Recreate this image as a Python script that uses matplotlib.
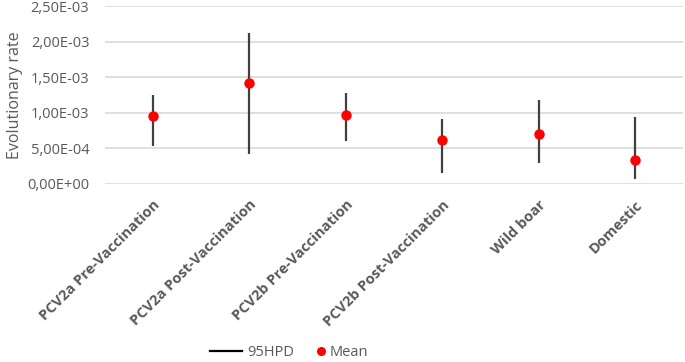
import matplotlib.pyplot as plt
from matplotlib.lines import Line2D
from matplotlib.ticker import FuncFormatter

plt.rcParams['font.family'] = ['Open Sans', 'DejaVu Sans']

# data
groups = ["PCV2a Pre-Vaccination", "PCV2a Post-Vaccination", "PCV2b Pre-Vaccination",
          "PCV2b Post-Vaccination", "Wild boar", "Domestic"]
mean_rate = [0.949e-3, 1.418e-3, 0.972e-3, 0.611e-3, 0.704e-3, 0.330e-3]
hpd_low = [0.535e-3, 0.414e-3, 0.597e-3, 0.155e-3, 0.287e-3, 0.062e-3]
hpd_high = [1.249e-3, 2.118e-3, 1.277e-3, 0.907e-3, 1.179e-3, 0.935e-3]
yticks = [0, 0.5e-3, 1.0e-3, 1.5e-3, 2.0e-3, 2.5e-3]

grey = "#595959"

fig = plt.figure(figsize=(6.85, 3.62), dpi=100)
ax = fig.add_axes([0.1526, 0.4925, 0.8452, 0.4901])

x = list(range(len(groups)))
ax.vlines(x, hpd_low, hpd_high, color="#404040", linewidth=1.6, zorder=2)
ax.plot(x, mean_rate, "o", color="#ff0000", markersize=6.5, zorder=3)

ax.set_xlim(-0.5, len(groups) - 0.5)
ax.set_ylim(0, 2.5e-3)
ax.set_yticks(yticks)
ax.yaxis.set_major_formatter(FuncFormatter(lambda v, p: ("%.2E" % v).replace(".", ",")))
ax.grid(axis="y", color="#d9d9d9", linewidth=1.2, zorder=0)
ax.set_axisbelow(True)
for s in ax.spines.values():
    s.set_visible(False)
ax.tick_params(axis="both", length=0, labelsize=10.5, labelcolor=grey)
ax.tick_params(axis="y", pad=11)

ax.set_xticks(x)
ax.set_xticklabels(groups, rotation=45, ha="right", va="top", rotation_mode="anchor",
                   fontweight="bold", fontsize=10.5, color=grey)
ax.tick_params(axis="x", pad=10)

ax.set_ylabel("Evolutionary rate", fontsize=11.5, color=grey, labelpad=3)

leg1 = fig.legend([Line2D([], [], color="black", linewidth=1.6)], ["95HPD"],
                  loc="center", bbox_to_anchor=(0.368, 0.025), frameon=False,
                  fontsize=10.5, labelcolor=grey, handlelength=2.2, handletextpad=0.4,
                  borderpad=0.2)
leg2 = fig.legend([Line2D([], [], marker="o", linestyle="none", color="#ff0000", markersize=5.5)],
                  ["Mean"], loc="center", bbox_to_anchor=(0.5, 0.025), frameon=False,
                  fontsize=10.5, labelcolor=grey, handlelength=0.6, handletextpad=0.3,
                  borderpad=0.2)

fig.savefig("out.png", dpi=100)
